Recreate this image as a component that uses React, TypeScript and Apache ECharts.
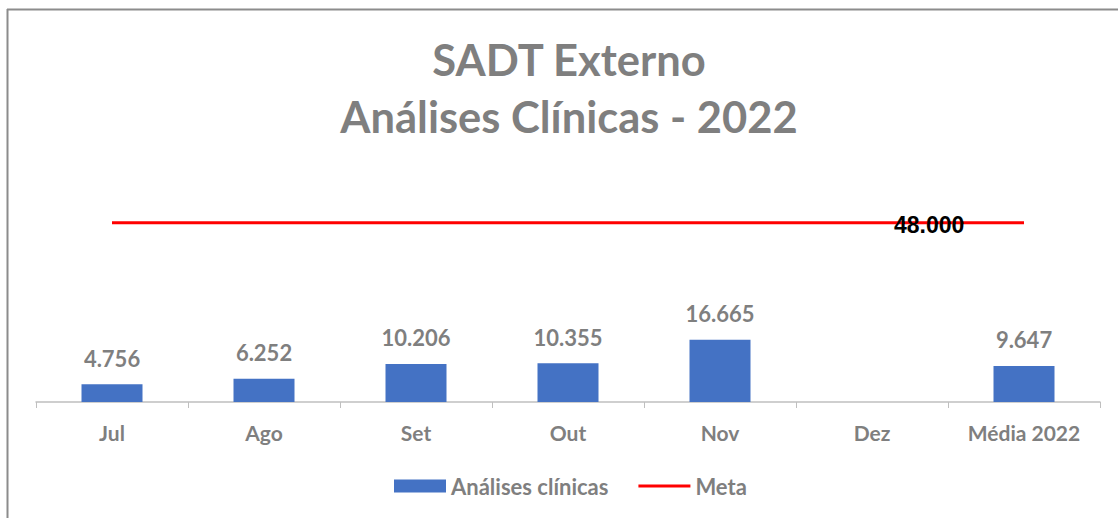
import React, { useEffect, useRef } from "react";
import * as echarts from "echarts";

const categories = ["Jul", "Ago", "Set", "Out", "Nov", "Dez", "Média 2022"];
const analises: (number | null)[] = [4756, 6252, 10206, 10355, 16665, null, 9647];
const meta: number[] = [48000, 48000, 48000, 48000, 48000, 48000, 48000];
const metaLabelIndex = 5;
const titleLines = ["SADT Externo", "Análises Clínicas - 2022"];

const fmt = (v: number) => v.toLocaleString("de-DE");

export default function App() {
  const ref = useRef<HTMLDivElement>(null);
  useEffect(() => {
    if (!ref.current) return;
    const chart = echarts.init(ref.current, null, { renderer: "svg" });
    const gray = "#7f7f7f";
    chart.setOption({
      animation: false,
      backgroundColor: "#ffffff",
      title: {
        text: titleLines.join("\n"),
        left: 569,
        textAlign: "center",
        top: 30,
        padding: 0,
        textStyle: {
          fontFamily: "Lato",
          fontWeight: "bold",
          fontSize: 43.5,
          lineHeight: 57,
          color: gray,
        },
      },
      legend: {
        bottom: 16,
        left: 389,
        padding: 5,
        itemWidth: 52,
        itemHeight: 13,
        itemGap: 30,
        textStyle: { fontFamily: "Lato", fontWeight: "bold", fontSize: 22, color: gray },
        data: [
          { name: "Análises clínicas", icon: "rect" },
          { name: "Meta", icon: "path://M0,0 L52,0 L52,3 L0,3 Z" },
        ],
      },
      grid: { left: 36, right: 18, top: 178, bottom: 116 },
      xAxis: {
        type: "category",
        data: categories,
        boundaryGap: true,
        axisLine: { lineStyle: { color: "#bfbfbf", width: 1.5 } },
        axisTick: { show: true, interval: 0, length: 6, lineStyle: { color: "#bfbfbf" } },
        axisLabel: {
          interval: 0,
          margin: 20,
          fontFamily: "Lato",
          fontWeight: "bold",
          fontSize: 21,
          color: gray,
        },
      },
      yAxis: {
        type: "value",
        min: 0,
        max: 60000,
        show: false,
        splitLine: { show: false },
      },
      series: [
        {
          name: "Análises clínicas",
          type: "bar",
          data: analises,
          barWidth: 61,
          itemStyle: { color: "#4472c4" },
          label: {
            show: true,
            position: "top",
            distance: 15,
            fontFamily: "Lato",
            fontWeight: "bold",
            fontSize: 22,
            color: gray,
            formatter: (p: any) => fmt(p.value),
          },
        },
        {
          name: "Meta",
          type: "line",
          data: meta.map((v, i) =>
            i === metaLabelIndex
              ? {
                  value: v,
                  label: {
                    show: true,
                    position: "right",
                    distance: 22,
                    offset: [0, 2],
                    fontFamily: "Liberation Sans",
                    fontWeight: "bold",
                    fontSize: 23,
                    color: "#000000",
                    formatter: (p: any) => fmt(p.value),
                  },
                }
              : v
          ),
          symbol: "circle",
          symbolSize: 0,
          showSymbol: true,
          lineStyle: { color: "#ff0000", width: 3 },
          itemStyle: { color: "#ff0000" },
          z: 3,
        },
      ],
      graphic: [
        {
          type: "line",
          shape: { x1: 7, y1: 9.5, x2: 1118, y2: 9.5 },
          style: { stroke: "#8c8c8c", lineWidth: 2 },
          silent: true,
        },
        {
          type: "line",
          shape: { x1: 7.5, y1: 9, x2: 7.5, y2: 518 },
          style: { stroke: "#8c8c8c", lineWidth: 2 },
          silent: true,
        },
      ],
    });
    return () => chart.dispose();
  }, []);
  return (
    <div
      ref={ref}
      style={{ position: "absolute", left: 0, top: 0, width: 1118, height: 518 }}
    />
  );
}
